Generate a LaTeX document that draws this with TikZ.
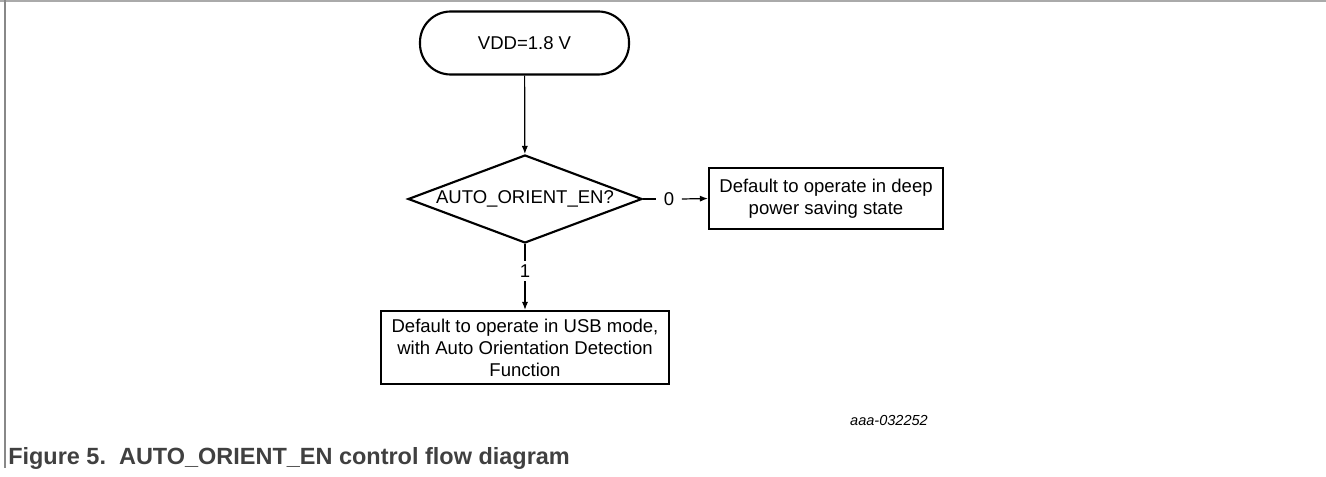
\documentclass[tikz,border=0pt]{standalone}
\usepackage{fontspec}
\setmainfont{Liberation Sans}
\usetikzlibrary{shapes.geometric,arrows.meta}
\newdimen\pxu \pxu=0.75pt
\definecolor{capgray}{RGB}{64,64,64}
\definecolor{framegray}{RGB}{170,170,170}
\begin{document}
\begin{tikzpicture}[x=0.75pt,y=-0.75pt,
  every node/.style={font=\fontsize{13.9pt}{16.5pt}\selectfont, text=black},
  shapeline/.style={draw=black, line width=1.6pt},
  box/.style={shapeline, rectangle, inner sep=0pt, align=center},
  term/.style={shapeline, rectangle, rounded corners=23pt, inner sep=0pt},
  dia/.style={shapeline, diamond, inner sep=0pt, shape aspect=2.66,
              minimum width=234\pxu, minimum height=88\pxu},
  lbl/.style={inner sep=0pt},
  wire/.style={draw=black, line width=0.9pt},
  conn/.style={wire, -{Latex[length=6pt,width=4.6pt]}}]
\useasboundingbox (0,0) rectangle (1326,477);
% frame
\draw[framegray, line width=1.5pt] (0,0.8) -- (1326,0.8);
\draw[framegray!80!black, line width=1.2pt] (5,0) -- (5,468);

\node[term, minimum width=209\pxu, minimum height=63\pxu] (vdd) at (524.5,43) {VDD=1.8 V};
\node[dia] (q) at (525,199) {AUTO\_ORIENT\_EN?};
\node[box, minimum width=234\pxu, minimum height=61\pxu] (r0) at (826,198.5)
  {Default to operate in deep\\power saving state};
\node[box, minimum width=288\pxu, minimum height=73\pxu] (r1) at (525,347.5)
  {Default to operate in USB mode,\\with Auto Orientation Detection\\Function};
\node[lbl, inner xsep=5.6pt] (l0) at (669,199) {0};
\node[lbl, inner ysep=2.6pt] (l1) at (525,271) {1};

\draw[conn] (vdd) -- (q);
\draw[wire] (q.east) -- (l0.west);
\draw[conn] (l0.east) -- (r0.west);
\draw[wire] (q.south) -- (l1.north);
\draw[conn] (l1.south) -- (r1.north);

\node[anchor=base, inner sep=0pt, font=\itshape\fontsize{10.9pt}{12pt}\selectfont] (id) at (889,425) {aaa-032252};
\node[anchor=base west, inner sep=0pt, text=capgray,
      font=\bfseries\fontsize{17.6pt}{20pt}\selectfont] (cap) at (8,464)
  {Figure 5.\ \ AUTO\_ORIENT\_EN control flow diagram};
\end{tikzpicture}
\end{document}
